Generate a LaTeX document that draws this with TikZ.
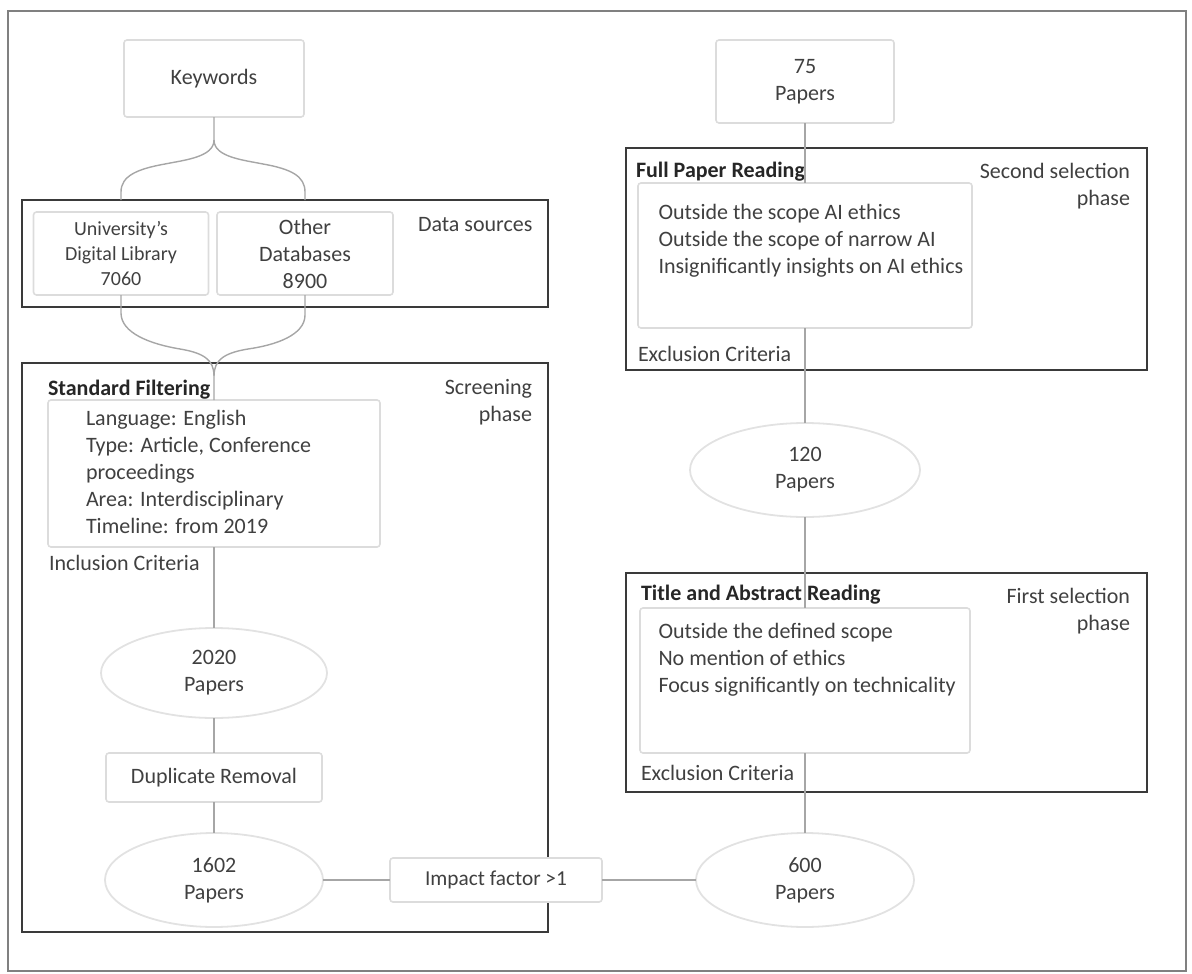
\documentclass[tikz,border=0pt]{standalone}
\usepackage{fontspec}
\setmainfont{Carlito}
\usetikzlibrary{shapes.geometric}
\newcommand\fs{\fontsize{22pt}{27pt}\selectfont}
\newcommand\fss{\fontsize{20pt}{25pt}\selectfont}
\newcommand\fsm{\fontsize{21.3pt}{26pt}\selectfont}
\definecolor{txt}{HTML}{404040}
\definecolor{headtxt}{HTML}{262626}
\definecolor{frame}{HTML}{3A3A3A}
\definecolor{faint}{HTML}{DCDCDC}
\definecolor{ovalline}{HTML}{E2E2E2}
\definecolor{wire}{HTML}{A6A6A6}
\definecolor{outline}{HTML}{808080}
\begin{document}
\begin{tikzpicture}[x=1pt,y=-1pt,
  every node/.style={inner sep=0pt, outer sep=0pt, font=\fs, text=txt},
  phase/.style={draw=frame, line width=1.8pt, rectangle},
  soft/.style={draw=faint, line width=1.6pt, rectangle, rounded corners=3pt, align=center},
  oval/.style={draw=ovalline, line width=1.8pt, ellipse, align=center},
  link/.style={draw=wire, line width=1.4pt},
  head/.style={font=\fs\bfseries, text=headtxt, anchor=base west},
  note/.style={anchor=base west},
  list/.style={anchor=north west, align=left},
  tag/.style={anchor=north east, align=right}]

\useasboundingbox (0,0) rectangle (1192,974);
\draw[outline, line width=2.6pt] (8,11) rectangle (1186,971);

% ---------- left column ----------
\node[soft, minimum width=180pt, minimum height=77pt] (kw) at (214,78.5) {Keywords};

\node[phase, minimum width=526pt, minimum height=107pt] (ds) at (285,253.5) {};
\node[soft, font=\fss, minimum width=175pt, minimum height=83pt] (uni) at (121,253.5)
  {University's\\Digital Library\\7060};
\node[soft, minimum width=176pt, minimum height=83pt] (oth) at (305,253.5)
  {Other\\Databases\\8900};
\node[note] (dslabel) at (418,231) {Data sources};

\node[phase, minimum width=526pt, minimum height=569pt] (scr) at (285,647.5) {};
\node[head] (sfhead) at (48,395) {Standard Filtering};
\node[tag] (scrtag) at (532,379) {Screening\\phase};
\node[soft, minimum width=332pt, minimum height=147pt] (inc) at (214,473.5) {};
\node[list] (inclist) at (86,410) {Language: English\\Type: Article, Conference\\proceedings\\Area: Interdisciplinary\\Timeline: from 2019};
\node[note] (inclabel) at (49,570) {Inclusion Criteria};

\node[oval, minimum width=226pt, minimum height=90pt] (e2020) at (214,673) {2020\\Papers};
\node[soft, minimum width=216pt, minimum height=49pt] (dup) at (214,777.5) {Duplicate Removal};
\node[oval, minimum width=218pt, minimum height=94pt] (e1602) at (214,880) {1602\\Papers};

% the impact box sits on top of the screening frame
\node[soft, fill=white, font=\fsm, minimum width=212pt, minimum height=44pt] (imp) at (496,880) {Impact factor >1};

% ---------- right column ----------
\node[oval, minimum width=218pt, minimum height=94pt] (e600) at (805,880) {600\\Papers};

\node[phase, minimum width=521pt, minimum height=219pt] (fsel) at (886.5,682.5) {};
\node[head] (fshead) at (641,600) {Title and Abstract Reading};
\node[tag] (fstag) at (1130,588) {First selection\\phase};
\node[soft, minimum width=330pt, minimum height=145pt] (fsi) at (805,680.5) {};
\node[list] (fslist) at (658.5,623) {Outside the defined scope\\No mention of ethics\\Focus significantly on technicality};
\node[note] (fslabel) at (641,780) {Exclusion Criteria};

\node[oval, minimum width=230pt, minimum height=94pt] (e120) at (805,470) {120\\Papers};

\node[phase, minimum width=521pt, minimum height=222pt] (ssel) at (886.5,259) {};
\node[head] (sshead) at (636,177) {Full Paper Reading};
\node[tag] (sstag) at (1130,163) {Second selection\\phase};
\node[soft, minimum width=334pt, minimum height=145pt] (ssi) at (805,255.5) {};
\node[list] (sslist) at (658.5,204) {Outside the scope AI ethics\\Outside the scope of narrow AI\\Insignificantly insights on AI ethics};
\node[note] (sslabel) at (638,361) {Exclusion Criteria};

\node[soft, minimum width=178pt, minimum height=83pt] (p75) at (805,81.5) {75\\Papers};

% ---------- connectors ----------
% brace from the keywords to both data sources
\draw[link] (kw.south) -- (214,140)
  .. controls (214,157) and (185,160) .. (165,164)
  .. controls (137,169) and (121,176) .. (121,192) -- (uni.north |- ds.north);
\draw[link] (214,140)
  .. controls (214,157) and (243,160) .. (263,164)
  .. controls (291,169) and (305,176) .. (305,192) -- (oth.north |- ds.north);
% brace joining both data sources into the filtering step
\draw[link] (uni.south) -- (121,313)
  .. controls (121,333) and (150,344) .. (180,349)
  .. controls (204,353) and (214,360) .. (214,376) -- (inc.north);
\draw[link] (oth.south) -- (305,315)
  .. controls (305,335) and (276,345) .. (248,349)
  .. controls (224,353) and (214,360) .. (214,376);

\draw[link] (inc.south) -- (e2020.north);
\draw[link] (e2020.south) -- (dup.north);
\draw[link] (dup.south) -- (e1602.north);
\draw[link] (e1602.east) -- (imp.west);
\draw[link] (imp.east) -- (e600.west);
\draw[link] (e600.north) -- (fsi.south);
\draw[link] (fsi.north) -- (e120.south);
\draw[link] (e120.north) -- (ssi.south);
\draw[link] (ssi.north) -- (p75.south);
\end{tikzpicture}
\end{document}
